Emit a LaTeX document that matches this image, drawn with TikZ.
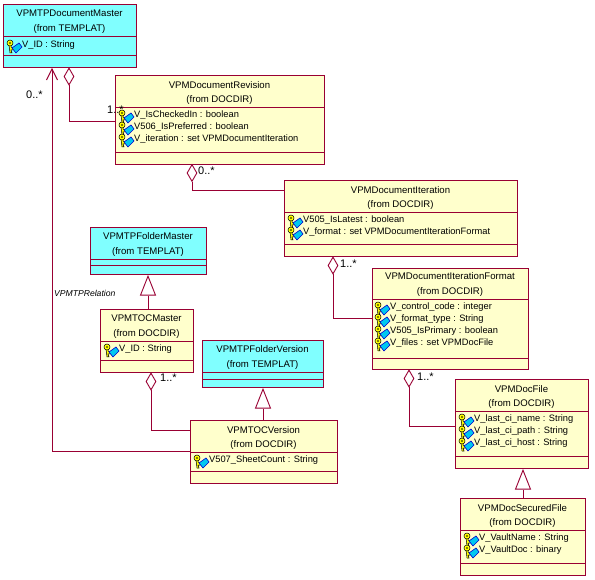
\documentclass[tikz,border=0pt]{standalone}
\usepackage{fontspec}
\setmainfont{Liberation Sans}
\usetikzlibrary{shapes, shapes.geometric, arrows.meta, positioning}
\definecolor{umlLine}  {RGB}{153,  0, 51}
\definecolor{umlCyan}  {RGB}{128,255,255}
\definecolor{umlCream} {RGB}{255,255,204}
\definecolor{keyYellow}{RGB}{255,255,  0}
\definecolor{keyBlue}  {RGB}{  0,200,240}

\begin{document}
\begin{tikzpicture}[
  x=1pt, y=-1pt,
  cls/.style={rectangle, draw=umlLine, line width=0.9pt, inner sep=0pt},
  tpl/.style={cls, fill=umlCyan},
  doc/.style={cls, fill=umlCream},
  ttl/.style={inner sep=0pt, font=\fontsize{9.6}{11}\selectfont},
  attr/.style={inner sep=0pt, anchor=west, font=\fontsize{9.3}{11}\selectfont},
  lbl/.style={inner sep=0pt, anchor=west, font=\fontsize{11}{12}\selectfont},
  sep/.style={draw=umlLine, line width=0.9pt},
  rel/.style={draw=umlLine, line width=0.9pt},
  aggr/.style={diamond, draw=umlLine, line width=0.9pt, fill=white, inner sep=0pt,
    minimum width=10pt, minimum height=17pt},
  gen/.style={isosceles triangle, isosceles triangle stretches, shape border rotate=90,
    draw=umlLine, line width=0.9pt, fill=white, inner sep=0pt, anchor=apex,
    minimum width=15pt, minimum height=19pt},
  keyicon/.pic={
    % key shank and bit, then its head
    \draw[black, line width=0.5pt, fill=keyYellow]
      (-13,0) -- (-11,0) -- (-11,2) -- (-9,3) -- (-9,5) -- (-11,5) -- (-10,8)
      -- (-12,8) -- cycle;
    \draw[black, line width=0.5pt, fill=keyYellow] (-12,-2) circle (3pt);
    \fill[black] (-12,-2) circle (0.8pt);
    % blue tag
    \draw[blue!80!black, line width=0.6pt, fill=keyBlue]
      (-3,-2) -- (0,2) -- (-6,8) -- (-10,3) -- cycle;
  },
]
%% -- Template classes --------------------------------------------------------
\node[tpl, minimum width=133pt, minimum height=63pt] (docMaster) at (69.5,35.5) {};
\node[tpl, minimum width=116pt, minimum height=47pt] (folderMaster) at (148,250.5) {};
\node[tpl, minimum width=121pt, minimum height=47pt] (folderVersion) at (262.5,363.5) {};

%% -- DOCDIR classes ----------------------------------------------------------
\node[doc, minimum width=209pt, minimum height=89pt] (docRev) at (219.5,119.5) {};
\node[doc, minimum width=233pt, minimum height=76pt] (docIter) at (400.5,218) {};
\node[doc, minimum width=156pt, minimum height=101pt] (iterFormat) at (450,318.5) {};
\node[doc, minimum width=93pt, minimum height=63pt] (tocMaster) at (146.5,340.5) {};
\node[doc, minimum width=147pt, minimum height=63pt] (tocVersion) at (263.5,451.5) {};
\node[doc, minimum width=133pt, minimum height=89pt] (docFile) at (521.5,423.5) {};
\node[doc, minimum width=125pt, minimum height=77pt] (securedFile) at (522.5,536.5) {};

%% -- Compartment lines -------------------------------------------------------
\draw[sep] (3,36) -- (136,36) (3,55) -- (136,55);
\draw[sep] (90,259) -- (206,259) (90,265) -- (206,265);
\draw[sep] (202,372) -- (323,372) (202,379) -- (323,379);
\draw[sep] (115,107) -- (324,107) (115,152) -- (324,152);
\draw[sep] (284,212) -- (517,212) (284,244) -- (517,244);
\draw[sep] (372,299) -- (528,299) (372,358) -- (528,358);
\draw[sep] (100,341) -- (193,341) (100,360) -- (193,360);
\draw[sep] (190,452) -- (337,452) (190,471) -- (337,471);
\draw[sep] (455,411) -- (588,411) (455,456) -- (588,456);
\draw[sep] (460,530) -- (585,530) (460,563) -- (585,563);

%% -- Titles ------------------------------------------------------------------
\node[ttl] (tMaster) at (69.5,13) {VPMTPDocumentMaster};
\node[ttl] (fMaster) at (69.5,29) {(from TEMPLAT)};
\node[ttl] (tRev) at (219.5,85) {VPMDocumentRevision};
\node[ttl] (fRev) at (219.5,100) {(from DOCDIR)};
\node[ttl] (tIter) at (400.5,190) {VPMDocumentIteration};
\node[ttl] (fIter) at (400.5,205) {(from DOCDIR)};
\node[ttl] (tFormat) at (450,276) {VPMDocumentIterationFormat};
\node[ttl] (fFormat) at (450,292) {(from DOCDIR)};
\node[ttl] (tFolderM) at (148,236) {VPMTPFolderMaster};
\node[ttl] (fFolderM) at (148,252) {(from TEMPLAT)};
\node[ttl] (tTocM) at (146.5,318) {VPMTOCMaster};
\node[ttl] (fTocM) at (146.5,334) {(from DOCDIR)};
\node[ttl] (tFolderV) at (262.5,349) {VPMTPFolderVersion};
\node[ttl] (fFolderV) at (262.5,365) {(from TEMPLAT)};
\node[ttl] (tTocV) at (263.5,430) {VPMTOCVersion};
\node[ttl] (fTocV) at (263.5,445) {(from DOCDIR)};
\node[ttl] (tFile) at (521.5,389) {VPMDocFile};
\node[ttl] (fFile) at (521.5,404) {(from DOCDIR)};
\node[ttl] (tSecured) at (522.5,508) {VPMDocSecuredFile};
\node[ttl] (fSecured) at (522.5,523) {(from DOCDIR)};

%% -- Attributes --------------------------------------------------------------
\node[attr] (aMaster) at (22,45) {V\_ID : String};
\node[attr] (aRev1) at (134,115) {V\_IsCheckedIn : boolean};
\node[attr] (aRev2) at (134,127) {V506\_IsPreferred : boolean};
\node[attr] (aRev3) at (134,139) {V\_iteration : set VPMDocumentIteration};
\node[attr] (aIter1) at (303,220) {V505\_IsLatest : boolean};
\node[attr] (aIter2) at (303,232) {V\_format : set VPMDocumentIterationFormat};
\node[attr] (aFmt1) at (390,307) {V\_control\_code : integer};
\node[attr] (aFmt2) at (390,319) {V\_format\_type : String};
\node[attr] (aFmt3) at (390,331) {V505\_IsPrimary : boolean};
\node[attr] (aFmt4) at (390,343) {V\_files : set VPMDocFile};
\node[attr] (aToc) at (119,349) {V\_ID : String};
\node[attr] (aTocV) at (209,460) {V507\_SheetCount : String};
\node[attr] (aFile1) at (474,419) {V\_last\_ci\_name : String};
\node[attr] (aFile2) at (474,431) {V\_last\_ci\_path : String};
\node[attr] (aFile3) at (474,443) {V\_last\_ci\_host : String};
\node[attr] (aSec1) at (479,538) {V\_VaultName : String};
\node[attr] (aSec2) at (479,550) {V\_VaultDoc : binary};

\foreach \a in {aMaster,aRev1,aRev2,aRev3,aIter1,aIter2,aFmt1,aFmt2,aFmt3,aFmt4,
                aToc,aTocV,aFile1,aFile2,aFile3,aSec1,aSec2}
  \pic at (\a.west) {keyicon};

%% -- Aggregations ------------------------------------------------------------
\node[aggr] (dMaster) at (69,76.5) {};
\node[aggr] (dRev) at (192,173) {};
\node[aggr] (dIter) at (333,265.5) {};
\node[aggr] (dFormat) at (409,378.5) {};
\node[aggr] (dToc) at (151,381.5) {};
\draw[rel] (dMaster.south) |- ([yshift=-1.5pt]docRev.west);
\draw[rel] (dRev.south) |- ([yshift=28pt]docIter.west);
\draw[rel] (dIter.south) |- (iterFormat.west);
\draw[rel] (dFormat.south) |- ([yshift=-2.5pt]docFile.west);
\draw[rel] (dToc.south) |- ([yshift=21.5pt]tocVersion.west);

%% -- Generalizations ---------------------------------------------------------
\node[gen] (gFolderM) at (148,275) {};
\node[gen] (gFolderV) at (263,388) {};
\node[gen] (gFile) at (523,469) {};
\draw[rel] (gFolderM.lower side) -- (gFolderM.lower side |- tocMaster.north);
\draw[rel] (gFolderV.lower side) -- (gFolderV.lower side |- tocVersion.north);
\draw[rel] (gFile.lower side) -- (gFile.lower side |- securedFile.north);

%% -- Relation back to the master ---------------------------------------------
\coordinate (arrowTop) at (52,68);
\draw[rel, -{Straight Barb[length=11pt,width=11pt]}] (tocVersion.west) -| (arrowTop);

%% -- Multiplicities ----------------------------------------------------------
\node[lbl] (m1) at (26,95) {0..*};
\node[lbl] (m2) at (107,110) {1..*};
\node[lbl] (m3) at (198,171) {0..*};
\node[lbl] (m4) at (340,264) {1..*};
\node[lbl] (m5) at (160,378) {1..*};
\node[lbl] (m6) at (417,377) {1..*};
\node[inner sep=0pt, anchor=west, font=\fontsize{8.6}{10}\selectfont\itshape] (relName) at (54,293) {VPMTPRelation};

\useasboundingbox (0,0) rectangle (595,580);
\end{tikzpicture}
\end{document}
